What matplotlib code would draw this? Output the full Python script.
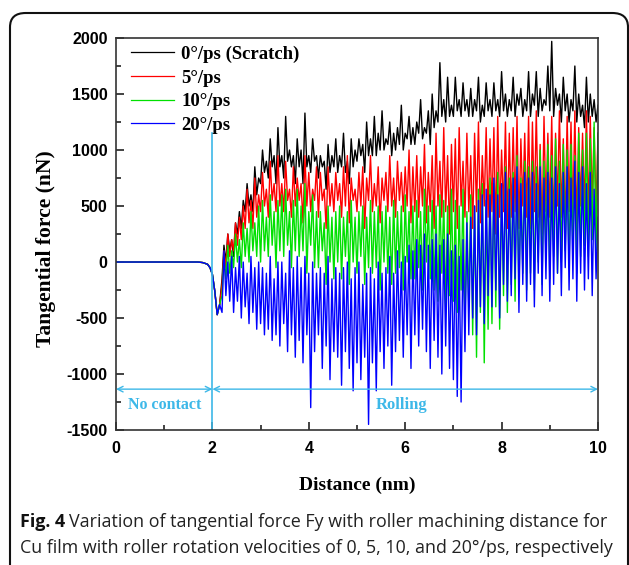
import numpy as np
import matplotlib
matplotlib.use('Agg')
import matplotlib.pyplot as plt
from matplotlib.patches import FancyBboxPatch
from matplotlib.ticker import MultipleLocator

plt.rcParams['axes.unicode_minus'] = False

# approach segment (no contact), shared by all runs
x_pre = [0.0, 1.7, 1.8, 1.9, 1.95, 2.0, 2.05, 2.1, 2.15]
f_pre = [0, 0, -5, -20, -50, -110, -260, -470, -380]

# rolling segment, sampled every 0.04 nm from 2.2 to 10.0
x_roll = np.round(np.arange(2.2, 10.0001, 0.04), 3)

f_0 = [
    -150, 150, 0, 250, 100, 200, 50, 350, 250, 450,
    300, 550, 450, 700, 500, 600, 450, 850, 600, 750,
    700, 1000, 800, 900, 750, 1100, 850, 950, 700, 1200,
    850, 950, 750, 1300, 900, 1000, 850, 950, 700, 1100,
    850, 1000, 700, 1330, 850, 950, 800, 1100, 900, 950,
    750, 950, 850, 900, 650, 1050, 800, 950, 850, 1100,
    800, 950, 850, 1150, 800, 900, 700, 1100, 850, 1000,
    900, 1100, 950, 1050, 800, 1250, 950, 1100, 950, 1300,
    950, 1150, 1000, 1350, 1000, 1100, 1050, 1250, 950, 1150,
    1000, 1200, 1050, 1400, 1000, 1150, 1100, 1300, 1050, 1200,
    1050, 1250, 1150, 1450, 1100, 1200, 1150, 1350, 1050, 1500,
    1200, 1350, 1250, 1780, 1300, 1450, 1250, 1650, 1300, 1400,
    1300, 1650, 1350, 1450, 1300, 1600, 1350, 1450, 1300, 1550,
    1300, 1450, 1350, 1650, 1250, 1400, 1300, 1600, 1350, 1450,
    1300, 1600, 1350, 1450, 1300, 1700, 1350, 1500, 1300, 1450,
    1350, 1650, 1300, 1500, 1400, 1550, 1300, 1450, 1350, 1700,
    1300, 1500, 1400, 1700, 1300, 1550, 1350, 1450, 1400, 1750,
    1350, 1970, 1300, 1550, 1400, 1500, 1250, 1650, 1350, 1500,
    1250, 1450, 1350, 1750, 1250, 1500, 1300, 1400, 1200, 1650,
    1250, 1500, 1300, 1450, 1250, 1400,
]
f_5 = [
    -200, 100, -50, 250, 50, 200, 100, 350, 150, 400,
    200, 500, 300, 650, 350, 550, 300, 750, 400, 600,
    450, 800, 500, 650, 400, 900, 550, 700, 450, 950,
    500, 700, 450, 900, 550, 650, 400, 850, 500, 750,
    550, 700, 350, 950, 500, 800, 450, 650, 550, 850,
    400, 800, 550, 650, 300, 850, 500, 700, 450, 800,
    550, 700, 400, 850, 500, 950, 350, 750, 550, 650,
    450, 800, 500, 850, 300, 750, 550, 950, 450, 700,
    500, 850, 350, 750, 550, 800, 450, 950, 500, 750,
    400, 900, 550, 800, 450, 850, 500, 1000, 350, 850,
    450, 950, 400, 850, 500, 1050, 350, 800, 450, 950,
    300, 1150, 500, 900, 400, 1200, 450, 950, 250, 1050,
    450, 1100, 300, 1200, 500, 900, 400, 1150, 450, 950,
    300, 1150, 450, 1250, 350, 950, 500, 1200, 400, 1100,
    450, 1200, 250, 1300, 400, 1000, 450, 1250, 300, 1150,
    400, 1200, 450, 1300, 300, 1100, 500, 1150, 400, 1300,
    300, 1250, 450, 1350, 400, 1050, 250, 1300, 450, 1150,
    400, 1300, 300, 1150, 500, 1350, 400, 1100, 300, 1300,
    450, 1250, 400, 1350, 300, 1200, 500, 1150, 450, 1350,
    400, 1300, 500, 1200, 450, 1150,
]
f_10 = [
    -300, 50, -150, 150, -100, 100, -50, 250, 0, 200,
    -50, 350, 50, 300, 0, 450, 100, 350, 50, 500,
    0, 550, 100, 400, 50, 600, 150, 450, -50, 550,
    100, 600, 50, 650, 150, 450, -50, 550, 100, 650,
    50, 500, 100, 700, -100, 450, 150, 600, -50, 450,
    -50, 450, 100, 350, -200, 500, 0, 400, -150, 450,
    0, 500, -150, 400, 50, 450, -200, 550, 0, 400,
    -100, 450, 50, 500, -200, 400, -50, 550, -100, 450,
    -50, 500, -250, 450, 0, 500, -100, 400, -200, 550,
    -100, 450, -50, 500, -250, 600, 0, 450, -150, 500,
    -150, 550, -50, 450, -250, 650, 0, 500, -150, 550,
    -250, 500, -350, 600, -100, 550, -400, 500, -300, 650,
    -350, 550, -450, 500, -250, 650, -550, 450, -400, 600,
    -650, 500, -850, 650, -450, 700, -900, 550, -600, 750,
    -550, 700, -400, 800, -600, 650, -300, 850, -450, 750,
    -200, 800, -350, 950, -250, 750, -100, 900, -250, 850,
    -100, 900, -250, 850, 0, 1000, -200, 900, 50, 1050,
    -150, 950, 50, 1100, -100, 900, 0, 1050, 100, 1000,
    -50, 1050, 100, 950, -100, 1150, 50, 1000, 150, 1150,
    50, 1100, 200, 1250, 100, 1150,
]
f_20 = [
    -450, 100, -300, 0, -350, 50, -450, -50, -350, 50,
    -500, 0, -400, -100, -550, 50, -450, -50, -600, 0,
    -550, -50, -650, -100, -600, 50, -700, -150, -650, 0,
    -750, 0, -550, -100, -800, 100, -650, -50, -850, 50,
    -700, -50, -900, 50, -650, -100, -1300, 0, -800, -100,
    -650, -50, -950, -100, -750, 50, -1050, -150, -800, -50,
    -850, -100, -1100, -50, -800, 0, -950, -150, -1150, -50,
    -900, 0, -1050, -200, -850, -100, -1450, -50, -900, -150,
    -1150, 0, -800, -100, -950, -50, -750, 50, -1100, -100,
    -800, 100, -700, 0, -850, 50, -650, 150, -950, 100,
    -650, 200, -750, 150, -600, 250, -800, 150, -950, 200,
    -700, 250, -850, 150, -1000, 200, -750, 250, -950, 100,
    -1050, 150, -1200, 50, -1250, 200, -800, 350, -650, 400,
    -500, 500, -650, 550, -400, 600, -550, 650, -300, 600,
    -400, 750, -250, 600, -500, 700, -200, 800, -350, 650,
    -300, 750, -150, 850, -450, 700, -200, 800, -350, 750,
    -200, 800, -400, 700, -100, 850, -300, 750, -150, 800,
    -350, 750, -200, 850, -100, 700, -300, 800, -50, 850,
    -250, 750, -150, 900, -350, 800, -100, 850, -250, 700,
    -150, 800, -300, 650, -150, 400,
]

labels = ['0°/ps (Scratch)', '5°/ps', '10°/ps', '20°/ps']
colors = ['#000000', '#ff0000', '#00e000', '#0000ff']
series = [f_0, f_5, f_10, f_20]

cyan = '#3db8e8'
serif = 'Liberation Serif'
sans = 'Liberation Sans'

fig = plt.figure(figsize=(6.29, 5.65), dpi=100)
ax = fig.add_axes([0.1844, 0.2389, 0.7663, 0.6938])

for f, c, lab in zip(series, colors, labels):
    xs = np.concatenate([x_pre, x_roll])
    ys = np.concatenate([f_pre, f])
    ax.plot(xs, ys, color=c, lw=1.0, label=lab)

ax.set_xlim(0, 10)
ax.set_ylim(-1500, 2000)
ax.xaxis.set_major_locator(MultipleLocator(2))
ax.xaxis.set_minor_locator(MultipleLocator(1))
ax.yaxis.set_major_locator(MultipleLocator(500))
ax.yaxis.set_minor_locator(MultipleLocator(250))
ax.tick_params(which='both', direction='in', top=False, right=False,
               width=1.2, color='#222222')
ax.tick_params(which='major', length=6)
ax.tick_params(which='minor', length=3.5)
ax.tick_params(axis='x', pad=8)
ax.tick_params(axis='y', pad=6)
for lab in ax.get_xticklabels() + ax.get_yticklabels():
    lab.set_fontfamily(sans)
    lab.set_fontweight('bold')
    lab.set_fontsize(11.5)
for s in ax.spines.values():
    s.set_linewidth(1.2)
    s.set_color('#333333')

ax.set_xlabel('Distance (nm)', fontfamily=serif, fontweight='bold', fontsize=14)
ax.set_ylabel('Tangential force (nN)', fontfamily=serif, fontweight='bold', fontsize=15.5)
ax.xaxis.set_label_coords(0.5, -0.12)
ax.yaxis.set_label_coords(-0.124, 0.462)

# contact boundary and regions
ax.plot([2, 2], [-1500, 1150], color=cyan, lw=1.2)
arrow = dict(arrowstyle='<->', color=cyan, lw=1.0, shrinkA=0, shrinkB=0)
ax.annotate('', xy=(0, -1135), xytext=(2, -1135), arrowprops=arrow)
ax.annotate('', xy=(2, -1135), xytext=(10, -1135), arrowprops=arrow)
ax.text(1.0, -1280, 'No contact', color=cyan, fontfamily=serif,
        fontweight='bold', fontsize=11.5, ha='center', va='center')
ax.text(5.93, -1275, 'Rolling', color=cyan, fontfamily=serif,
        fontweight='bold', fontsize=12, ha='center', va='center')

leg = ax.legend(loc='upper left', frameon=False, handlelength=2.3,
                handletextpad=0.4, labelspacing=0.35,
                borderaxespad=0.0, bbox_to_anchor=(0.015, 1.0),
                prop=dict(family=serif, weight='bold', size=13.5))
for h in leg.get_lines():
    h.set_linewidth(0.9)

# rounded frame around figure and caption
frame = FancyBboxPatch((10 / 629, -0.05), 618 / 629, 1.0 - 13 / 565 + 0.05,
                       boxstyle='round,pad=0,rounding_size=0.025',
                       transform=fig.transFigure, fill=False,
                       ec='#111111', lw=1.5)
fig.patches.append(frame)

cap_font = 'Open Sans'
cap_size = 12.9
y1 = 1 - 522 / 565
y2 = 1 - 548 / 565
t = fig.text(20 / 629, y1, 'Fig. 4', fontfamily=cap_font, fontweight='bold',
             fontsize=cap_size, color='#111111', va='center')
fig.canvas.draw()
bb = t.get_window_extent()
x_next = (bb.x1 + 4) / fig.bbox.width
fig.text(x_next, y1, 'Variation of tangential force Fy with roller machining distance for',
         fontfamily=cap_font, fontsize=cap_size, color='#222222', va='center')
fig.text(20 / 629, y2, 'Cu film with roller rotation velocities of 0, 5, 10, and 20°/ps, respectively',
         fontfamily=cap_font, fontsize=cap_size, color='#222222', va='center')

fig.savefig('out.png', dpi=100)
